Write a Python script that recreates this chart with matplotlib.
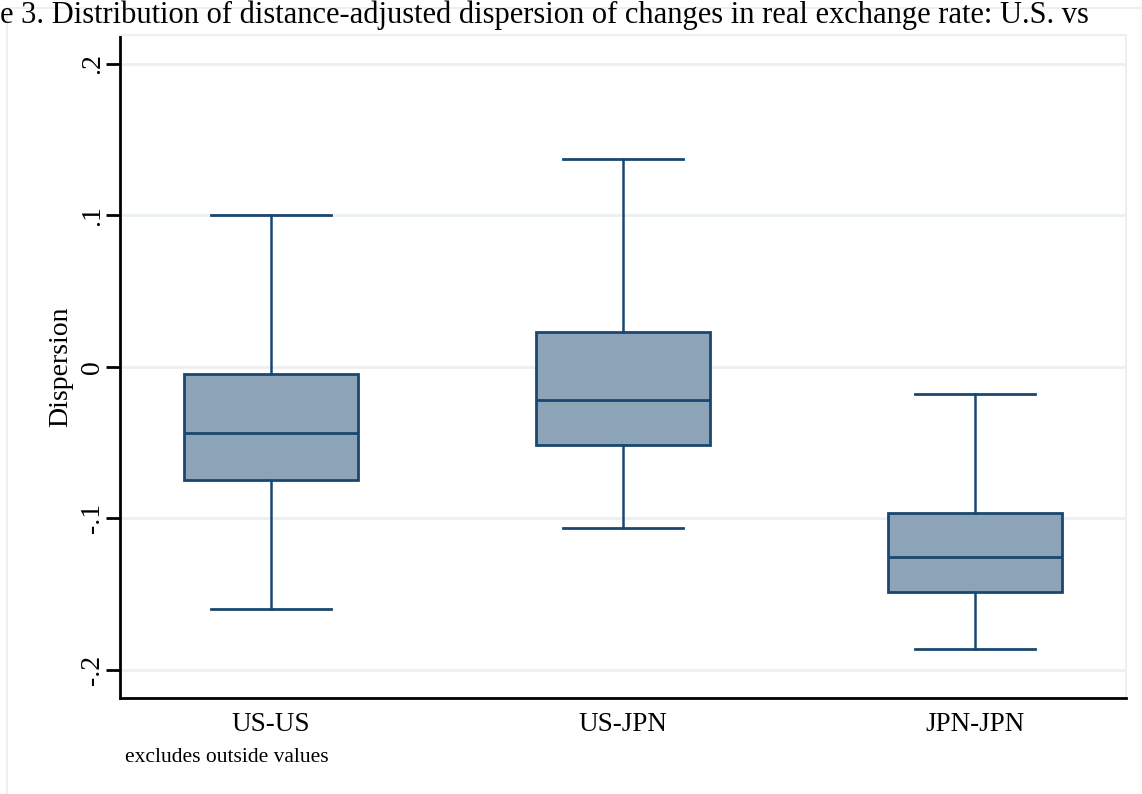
import matplotlib.pyplot as plt
from matplotlib.patches import Rectangle

plt.rcParams['font.family'] = ['Liberation Serif', 'DejaVu Serif']

# data
groups = ["US-US", "US-JPN", "JPN-JPN"]
whisk_lo = [-0.1597, -0.1063, -0.1861]
q1 = [-0.0746, -0.0515, -0.1485]
median = [-0.0436, -0.0218, -0.1254]
q3 = [-0.0046, 0.0231, -0.0964]
whisk_hi = [0.1000, 0.1373, -0.0178]
yticks = [-0.2, -0.1, 0.0, 0.1, 0.2]
yticklabels = ["-.2", "-.1", "0", ".1", ".2"]

navy = "#1a476f"
fill = "#8ca3b8"
grid_col = "#eaf0f3"

fig = plt.figure(figsize=(11.42, 7.94), dpi=100)
fig.patch.set_facecolor("white")

# outer graph region border (cut by the image edge)
fig.patches.append(Rectangle((7 / 1142, -0.05), 1.1, 1 - 8 / 794 + 0.05,
                             transform=fig.transFigure, fill=False,
                             edgecolor=grid_col, linewidth=1.5))

# caption of the page at the top edge
fig.text(0.0, 1.0, "e 3. Distribution of distance-adjusted dispersion of changes in real exchange rate: U.S. vs",
         fontsize=22, ha="left", va="top")

ax = fig.add_axes([120 / 1142, 1 - 698 / 794, (1126 - 120) / 1142, (698 - 35) / 794])

stats = []
for i, g in enumerate(groups):
    stats.append(dict(label=g, whislo=whisk_lo[i], q1=q1[i], med=median[i],
                      q3=q3[i], whishi=whisk_hi[i], fliers=[]))

ax.bxp(stats, positions=[1, 2, 3], widths=0.497, capwidths=0.34,
       patch_artist=True, showfliers=False,
       boxprops=dict(facecolor=fill, edgecolor=navy, linewidth=2),
       medianprops=dict(color=navy, linewidth=2),
       whiskerprops=dict(color=navy, linewidth=1.8),
       capprops=dict(color=navy, linewidth=2))

ax.set_xlim(0.571, 3.429)
ax.set_ylim(-0.2185, 0.219)

ax.set_yticks(yticks)
ax.set_yticklabels(yticklabels, rotation=90, va="center", fontsize=20)
ax.tick_params(axis="y", length=10, width=2, pad=1)
ax.tick_params(axis="x", length=0, labelsize=19.5, pad=10)

for y in yticks:
    ax.axhline(y, color=grid_col, linewidth=2, zorder=0)

ax.set_ylabel("Dispersion", fontsize=20, labelpad=5)

for s in ["left", "bottom"]:
    ax.spines[s].set_linewidth(2)
    ax.spines[s].set_color("black")
for s in ["top", "right"]:
    ax.spines[s].set_linewidth(1.5)
    ax.spines[s].set_color(grid_col)

fig.text(125 / 1142, 1 - 757 / 794, "excludes outside values", fontsize=15.5,
         ha="left", va="center")

fig.savefig("out.png", dpi=100)
